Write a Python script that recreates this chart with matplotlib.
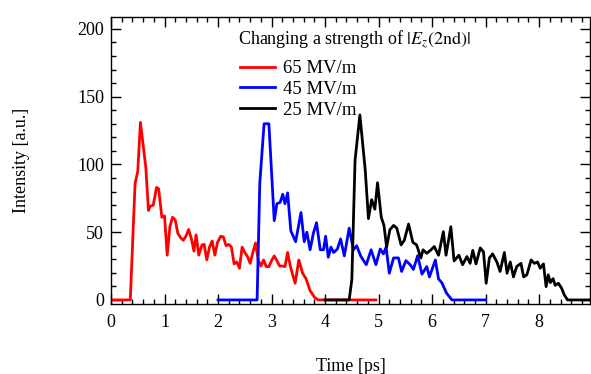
import matplotlib
matplotlib.use("Agg")
import matplotlib.pyplot as plt
from matplotlib.ticker import MultipleLocator

plt.rcParams["font.family"] = ["Liberation Serif", "DejaVu Serif"]
plt.rcParams["mathtext.fontset"] = "stix"

# 65 MV/m
red_t = [0, 0.36, 0.45, 0.5, 0.55, 0.65, 0.70, 0.73, 0.79, 0.85, 0.89, 0.95, 1.0, 1.05, 1.1,
         1.15, 1.2, 1.25, 1.31, 1.35, 1.40, 1.45, 1.5, 1.55, 1.59, 1.64, 1.70, 1.74, 1.79, 1.84,
         1.89, 1.94, 1.99, 2.05, 2.1, 2.15, 2.2, 2.25, 2.30, 2.35, 2.40, 2.45, 2.5, 2.55, 2.6,
         2.65, 2.70, 2.75, 2.80, 2.85, 2.9, 2.95, 3.0, 3.05, 3.1, 3.15, 3.20, 3.25, 3.30, 3.35,
         3.44, 3.51, 3.58, 3.64, 3.72, 3.80, 3.87, 4.95]
red_i = [0, 0, 86, 95, 131, 98, 66, 69, 70, 83, 82, 61, 62, 33, 54, 61, 59, 49, 45.5, 44, 47,
         52, 45.5, 36, 48, 33, 40.6, 41, 29.5, 39, 43.5, 33, 42.5, 47, 46.5, 40, 41, 39, 26.6,
         28, 23.4, 39, 35, 32, 27, 35, 42, 29.5, 25, 29.5, 24.6, 24.6, 29, 32.5, 29, 25, 25,
         24.6, 35, 25, 12.3, 29.5, 19.7, 16, 6.9, 2, 0, 0]

# 45 MV/m
blue_t = [2.0, 2.73, 2.78, 2.86, 2.95, 3.05, 3.10, 3.16, 3.21, 3.25, 3.30, 3.36, 3.45, 3.55,
          3.61, 3.66, 3.72, 3.78, 3.84, 3.91, 3.97, 4.01, 4.06, 4.11, 4.16, 4.23, 4.29, 4.36,
          4.45, 4.53, 4.59, 4.67, 4.77, 4.86, 4.95, 5.03, 5.09, 5.14, 5.20, 5.28, 5.37, 5.43,
          5.51, 5.59, 5.65, 5.73, 5.81, 5.90, 5.95, 6.06, 6.12, 6.18, 6.27, 6.37, 7.0]
blue_i = [0, 0, 86, 130, 130, 58.5, 71, 72, 78, 71, 79, 51, 43, 64.5, 43, 50, 37, 49, 57, 37,
          37, 47, 31.5, 39, 35, 37.6, 45, 32.5, 53, 37, 40, 32, 26, 37, 26, 37.6, 34, 39, 19.7,
          31, 31, 21, 29, 26, 22.5, 32.7, 19, 24.6, 17, 29.5, 15.5, 12.8, 5, 0, 0]

# 25 MV/m
black_t = [4.0, 4.45, 4.50, 4.56, 4.65, 4.75, 4.81, 4.87, 4.93, 4.98, 5.05, 5.10, 5.15, 5.21,
           5.28, 5.34, 5.42, 5.48, 5.56, 5.64, 5.71, 5.79, 5.83, 5.90, 5.98, 6.04, 6.12, 6.21,
           6.26, 6.35, 6.41, 6.50, 6.57, 6.65, 6.71, 6.76, 6.82, 6.90, 6.96, 7.01, 7.07, 7.13,
           7.21, 7.27, 7.35, 7.40, 7.46, 7.52, 7.58, 7.66, 7.71, 7.77, 7.85, 7.91, 7.97, 8.02,
           8.08, 8.13, 8.17, 8.21, 8.26, 8.30, 8.36, 8.42, 8.47, 8.53, 9.0]
black_i = [0, 0, 15, 103, 136.5, 96, 60, 74, 67, 86.5, 61, 55, 39, 51.7, 55, 53, 40.6, 44, 56,
           42.5, 40.6, 31, 37, 34.4, 37, 39.4, 33, 50.4, 33, 54, 28.8, 33, 26, 32, 27, 36.6,
           26.6, 38.4, 35.5, 12.3, 31, 34, 28, 21, 35, 19.7, 28, 17, 24.6, 27, 17, 18.5, 29.5,
           27, 28, 23.4, 26.6, 9.8, 18.5, 12.8, 15.7, 10.8, 12.3, 8.6, 3.7, 0, 0]

labels = ["65 MV/m", "45 MV/m", "25 MV/m"]
colors = ["#ff0000", "#0000ff", "#000000"]
legend_title = r"Changing a strength of $|E_z(2\mathrm{nd})|$"

W, H = 591, 374
fig = plt.figure(figsize=(W / 100, H / 100), dpi=100)
ax = fig.add_axes([111 / W, 1 - 304 / H, (590 - 111) / W, (304 - 16.7) / H])

for t, i, lab, c in zip([red_t, blue_t, black_t], [red_i, blue_i, black_i], labels, colors):
    ax.plot(t, i, color=c, lw=2.0, label=lab)

ax.set_xlim(0, 8.95)
ax.set_ylim(-3, 209)
ax.xaxis.set_major_locator(MultipleLocator(1))
ax.xaxis.set_minor_locator(MultipleLocator(0.2))
ax.yaxis.set_major_locator(MultipleLocator(50))
ax.yaxis.set_minor_locator(MultipleLocator(10))
ax.tick_params(which="both", direction="in", top=True, right=True, width=1.0, labelsize=13)
ax.tick_params(which="major", length=7)
ax.tick_params(which="minor", length=3.5)
ax.tick_params(axis="x", pad=7)
ax.tick_params(axis="y", pad=5)
for s in ax.spines.values():
    s.set_linewidth(1.0)

ax.set_xlabel("Time [ps]", fontsize=13, labelpad=19.5)
ax.set_ylabel("Intensity [a.u.]", fontsize=13, labelpad=34)

fig.text(238 / W, 1 - 40 / H, legend_title, fontsize=13, ha="left", va="center")
leg = ax.legend(loc="upper left", bbox_to_anchor=(240 / W, 1 - 60 / H),
                bbox_transform=fig.transFigure, frameon=False, fontsize=13.5,
                handlelength=1.85, handletextpad=0.45, labelspacing=0.2,
                borderaxespad=0, borderpad=0)

fig.savefig("out.png", dpi=100)
